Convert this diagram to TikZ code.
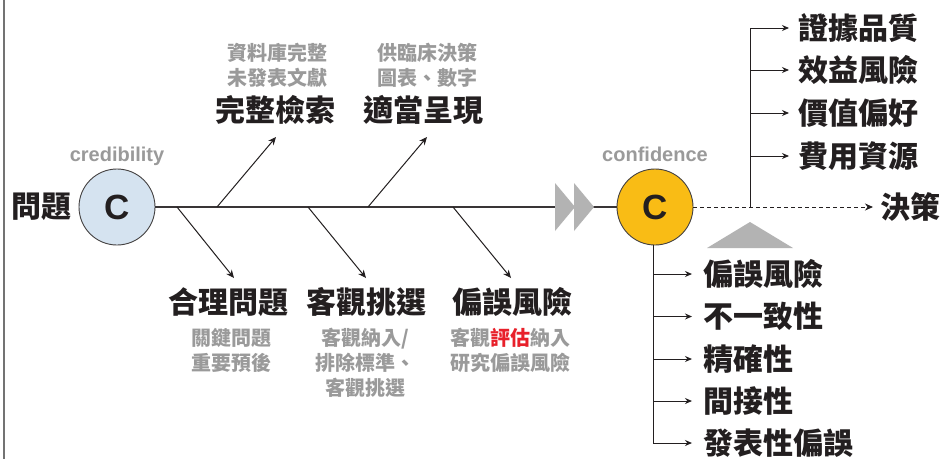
\documentclass[tikz,border=0pt]{standalone}
\usepackage{fontspec}
\usetikzlibrary{arrows.meta}
\setmainfont{Noto Sans CJK TC}
\newfontfamily\latinb{Liberation Sans}
\definecolor{txt}{HTML}{231F20}
\definecolor{graytxt}{HTML}{9A9A9A}
\definecolor{blueC}{HTML}{D5E3F0}
\definecolor{goldC}{HTML}{F9BC15}
\definecolor{trigray}{HTML}{B3B3B3}
\definecolor{redtxt}{HTML}{E8202A}
\tikzset{
  circ/.style={circle, draw=txt!85, line width=0.9pt, minimum size=76pt, inner sep=0pt,
    font=\latinb\bfseries\fontsize{35}{40}\selectfont, text=txt},
  ctag/.style={font=\latinb\bfseries\fontsize{20}{24}\selectfont, text=graytxt, inner sep=0pt},
  biglabel/.style={font=\bfseries\fontsize{30}{34}\selectfont, text=txt, inner sep=0pt},
  smalllabel/.style={font=\bfseries\fontsize{20}{25}\selectfont, text=graytxt, inner sep=0pt, align=center},
  itemlabel/.style={font=\bfseries\fontsize{30}{34}\selectfont, text=txt, inner sep=0pt, anchor=west},
  spine/.style={draw=txt!90, line width=1.3pt},
  branch/.style={draw=txt, line width=1pt, -{Stealth[length=8pt,width=7pt]}},
  connector/.style={draw=txt, line width=1pt},
  itemarrow/.style={draw=txt, line width=1pt, -{Stealth[length=7pt,width=6pt]}},
  dashline/.style={draw=txt, line width=1pt, dash pattern=on 4pt off 3pt, -{Stealth[length=8pt,width=7pt]}},
  tri/.style={fill=trigray}
}
\begin{document}
\begin{tikzpicture}[x=1pt,y=-1pt]
\useasboundingbox (0,0) rectangle (944,459);
\fill[white] (0,0) rectangle (944,459);
% left frame line
\draw[color=gray!90!black, line width=1.4pt] (4,0) -- (4,459);

% main nodes
\node[circ, fill=blueC] (L) at (117,207) {C};
\node[circ, fill=goldC] (R) at (655,207) {C};
\node[ctag] (credibility) at (117,156) {credibility};
\node[ctag] (confidence) at (655,154) {confidence};
\node[biglabel] (problem) at (42,207) {問題};

% spine
\draw[spine] (L.east) -- (R.west);
\fill[tri] (555,183) -- (555,231) -- (575,207) -- cycle;
\fill[tri] (574,183) -- (574,231) -- (594,207) -- cycle;

% upper branches
\coordinate (u1s) at (217,207);
\coordinate (u1e) at (276,137);
\coordinate (u2s) at (368,207);
\coordinate (u2e) at (427,137);
\draw[branch] (u1s) -- (u1e);
\draw[branch] (u2s) -- (u2e);
\node[biglabel] (search) at (275,110) {完整檢索};
\node[biglabel] (present) at (423,110) {適當呈現};
\node[smalllabel] (searchnote) at (277,65.5) {資料庫完整\\未發表文獻};
\node[smalllabel] (presentnote) at (427,65.5) {供臨床決策\\圖表、數字};

% lower branches
\coordinate (d1s) at (177,207);
\coordinate (d1e) at (234,278);
\coordinate (d2s) at (308,207);
\coordinate (d2e) at (366,278);
\coordinate (d3s) at (453,207);
\coordinate (d3e) at (511,278);
\draw[branch] (d1s) -- (d1e);
\draw[branch] (d2s) -- (d2e);
\draw[branch] (d3s) -- (d3e);
\node[biglabel] (question) at (228,302) {合理問題};
\node[biglabel] (select) at (366,302) {客觀挑選};
\node[biglabel] (bias) at (512,302) {偏誤風險};
\node[smalllabel] (questionnote) at (231,350.5) {關鍵問題\\重要預後};
\node[smalllabel] (selectnote) at (365,363) {客觀納入/\\排除標準、\\客觀挑選};
\node[smalllabel] (biasnote) at (510,350.5) {客觀{\color{redtxt}評估}納入\\研究偏誤風險};

% decision
\node[itemlabel] (decision) at (880,207) {決策};
\draw[dashline] (R.east) -- ([xshift=-7pt]decision.west);

% upper right list
\coordinate (vtop) at (750,28);
\coordinate (vbot) at (750,207);
\draw[connector] (vbot) -- (vtop);
\node[itemlabel] (e1) at (798,28) {證據品質};
\node[itemlabel] (e2) at (798,70) {效益風險};
\node[itemlabel] (e3) at (798,113) {價值偏好};
\node[itemlabel] (e4) at (798,156) {費用資源};
\foreach \n/\y in {e1/28,e2/70,e3/113,e4/156}{
  \draw[itemarrow] (750,\y) -- ([xshift=-9pt]\n.west);
}
\fill[tri] (707,248) -- (750,222) -- (793,248) -- cycle;

% lower right list
\coordinate (bbot) at (653,443);
\draw[connector] (R.south -| bbot) -- (bbot);
\node[itemlabel] (f1) at (703,274) {偏誤風險};
\node[itemlabel] (f2) at (703,316.5) {不一致性};
\node[itemlabel] (f3) at (703,359) {精確性};
\node[itemlabel] (f4) at (703,401) {間接性};
\node[itemlabel] (f5) at (703,443) {發表性偏誤};
\foreach \n/\y in {f1/274,f2/316.5,f3/359,f4/401,f5/443}{
  \draw[itemarrow] (653,\y) -- ([xshift=-11pt]\n.west);
}
\end{tikzpicture}
\end{document}
